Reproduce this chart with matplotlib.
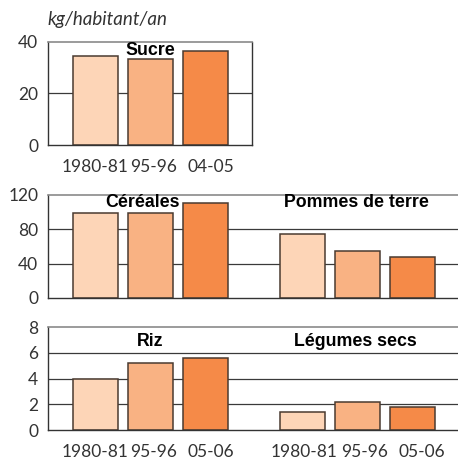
import matplotlib
matplotlib.use("Agg")
import matplotlib.pyplot as plt
from matplotlib.transforms import ScaledTranslation

# ---- data ----
periods_a = ["1980-81", "95-96", "04-05"]
periods_b = ["1980-81", "95-96", "05-06"]
sucre = [34.5, 33.5, 36.5]
cereales = [99, 99, 110]
pommes = [74, 54, 47]
riz = [4.0, 5.2, 5.6]
legumes = [1.4, 2.2, 1.8]
unit_label = "kg/habitant/an"

colors = ["#FDD5B7", "#F9B283", "#F58A48"]
edge = "#4a3a30"
grid_c = "#3a3a3a"
spine_dark = "#333333"
spine_gray = "#8a8a8a"
tick_c = "#333333"

plt.rcParams['font.family'] = ['Lato', 'DejaVu Sans']
W, H = 458, 461
fig = plt.figure(figsize=(W / 100, H / 100), dpi=100)

TICK_FS = 12.5
TITLE_FS = 12.8

def px_axes(x0, x1, ytop, ybot):
    return fig.add_axes([x0 / W, (H - ybot) / H, (x1 - x0) / W, (ybot - ytop) / H])

bw = 45 / 55
left_off = 0.864

def style(ax, ymax, yticks, right_spine):
    ax.set_ylim(0, ymax)
    ax.set_yticks(yticks)
    ax.set_yticklabels([str(t) for t in yticks], fontsize=TICK_FS, color=tick_c)
    ax.tick_params(axis='y', length=0, pad=7)
    ax.tick_params(axis='x', length=0, pad=10)
    for t in yticks[1:-1]:
        ax.axhline(t, color=grid_c, lw=0.9, zorder=0)
    ax.spines['top'].set_color(spine_gray)
    ax.spines['top'].set_linewidth(1.2)
    ax.spines['left'].set_color(spine_dark)
    ax.spines['bottom'].set_color(spine_dark)
    ax.spines['left'].set_linewidth(1.0)
    ax.spines['bottom'].set_linewidth(1.0)
    if right_spine:
        ax.spines['right'].set_color(spine_dark)
        ax.spines['right'].set_linewidth(1.0)
    else:
        ax.spines['right'].set_visible(False)

def bars(ax, xs, vals):
    ax.bar(xs, vals, width=bw, color=colors, edgecolor=edge, linewidth=1.1, zorder=2)

def title(ax, x, y, s):
    ax.text(x, y, s, transform=ax.get_xaxis_transform(), ha='center', va='center',
            fontsize=TITLE_FS, fontweight='bold', family='Liberation Sans', zorder=5)

def nudge(ax, shifts_px):
    for lab, dx in zip(ax.get_xticklabels(), shifts_px):
        lab.set_transform(lab.get_transform() + ScaledTranslation(dx / 100, 0, fig.dpi_scale_trans))

# Top panel: Sucre
ax1 = px_axes(48, 252, 42, 145)
x1 = [0, 1, 2]
bars(ax1, x1, sucre)
ax1.set_xlim(-left_off, 204 / 55 - left_off)
style(ax1, 40, [0, 20, 40], True)
ax1.set_xticks(x1)
ax1.set_xticklabels(periods_a, fontsize=TICK_FS, color=tick_c)
nudge(ax1, [0, 3, 5.5])
title(ax1, 1, 0.913, "Sucre")

# Middle panel: Céréales / Pommes de terre
g2 = 3.755
ax2 = px_axes(48, 458, 194.5, 298)
xa = [0, 1, 2]
xb = [g2, g2 + 1, g2 + 2]
bars(ax2, xa, cereales)
bars(ax2, xb, pommes)
ax2.set_xlim(-left_off, 410 / 55 - left_off)
style(ax2, 120, [0, 40, 80, 120], False)
ax2.set_xticks([])
title(ax2, 0.86, 0.918, "Céréales")
title(ax2, 4.745, 0.918, "Pommes de terre")

# Bottom panel: Riz / Légumes secs
ax3 = px_axes(48, 458, 327.3, 430)
bars(ax3, xa, riz)
bars(ax3, xb, legumes)
ax3.set_xlim(-left_off, 410 / 55 - left_off)
style(ax3, 8, [0, 2, 4, 6, 8], False)
ax3.set_xticks(xa + xb)
ax3.set_xticklabels(periods_b + periods_b, fontsize=TICK_FS, color=tick_c)
nudge(ax3, [0, 3, 5.5, 2, 8, 9.5])
title(ax3, 0.99, 0.86, "Riz")
title(ax3, 4.72, 0.86, "Légumes secs")

fig.text(47 / W, 1 - 19 / H, unit_label, ha='left', va='center', fontsize=13.5,
         style='italic', color=tick_c)

fig.savefig("out.png", dpi=100)
